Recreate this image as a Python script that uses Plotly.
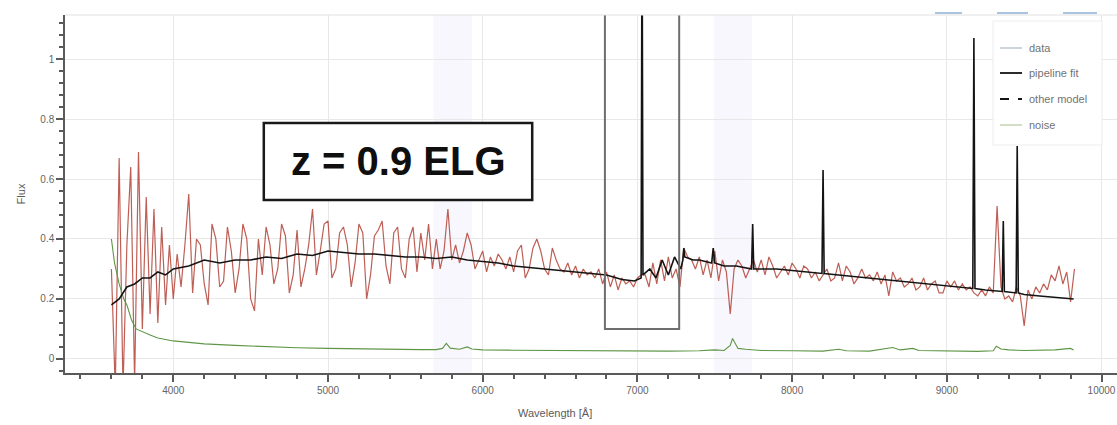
import plotly.graph_objects as go

# ---------------- data ----------------
wave_start = 3600
wave_step = 25
data_flux = [
    0.30, -0.10, 0.67, -0.10, 0.38, 0.64, -0.08, 0.69, 0.10, 0.54,
    0.15, 0.50, 0.12, 0.44, 0.18, 0.38, 0.20, 0.35, 0.24, 0.38,
    0.55, 0.22, 0.40, 0.38, 0.25, 0.18, 0.45, 0.40, 0.24, 0.26,
    0.44, 0.36, 0.22, 0.30, 0.45, 0.40, 0.20, 0.16, 0.40, 0.28,
    0.44, 0.38, 0.25, 0.30, 0.45, 0.41, 0.22, 0.28, 0.43, 0.24,
    0.30, 0.38, 0.50, 0.28, 0.36, 0.45, 0.46, 0.27, 0.30, 0.42,
    0.44, 0.38, 0.24, 0.32, 0.45, 0.42, 0.20, 0.28, 0.41, 0.43,
    0.46, 0.31, 0.25, 0.42, 0.44, 0.30, 0.27, 0.40, 0.44, 0.29,
    0.42, 0.33, 0.45, 0.30, 0.40, 0.30, 0.36, 0.50, 0.33, 0.38,
    0.32, 0.36, 0.42, 0.38, 0.30, 0.33, 0.36, 0.29, 0.34, 0.31,
    0.35, 0.33, 0.30, 0.34, 0.29, 0.36, 0.38, 0.27, 0.30, 0.37,
    0.40, 0.36, 0.30, 0.28, 0.37, 0.33, 0.30, 0.29, 0.32, 0.28,
    0.31, 0.27, 0.30, 0.28, 0.29, 0.27, 0.30, 0.25, 0.29, 0.24,
    0.28, 0.23, 0.27, 0.25, 0.26, 0.24, 0.27, 0.28, 0.28, 0.24,
    0.32, 0.25, 0.33, 0.26, 0.34, 0.27, 0.30, 0.24, 0.37, 0.34,
    0.33, 0.30, 0.34, 0.28, 0.33, 0.27, 0.36, 0.26, 0.33, 0.29,
    0.15, 0.30, 0.33, 0.31, 0.27, 0.30, 0.33, 0.29, 0.33, 0.28,
    0.34, 0.31, 0.27, 0.29, 0.31, 0.28, 0.32, 0.30, 0.27, 0.31,
    0.30, 0.27, 0.29, 0.26, 0.28, 0.30, 0.26, 0.27, 0.32, 0.26,
    0.31, 0.29, 0.25, 0.27, 0.30, 0.27, 0.28, 0.26, 0.29, 0.25,
    0.28, 0.21, 0.29, 0.26, 0.27, 0.24, 0.25, 0.27, 0.23, 0.24,
    0.27, 0.23, 0.25, 0.26, 0.22, 0.22, 0.26, 0.24, 0.26, 0.23,
    0.25, 0.23, 0.24, 0.22, 0.21, 0.23, 0.21, 0.24, 0.22, 0.51,
    0.24, 0.20, 0.21, 0.19, 0.24, 0.21, 0.11, 0.23, 0.20, 0.24,
    0.22, 0.25, 0.23, 0.28, 0.26, 0.31, 0.25, 0.29, 0.19, 0.30,
]
data_wave = [wave_start + wave_step * i for i in range(len(data_flux))]

fit_wave = [
    3600, 3650, 3700, 3750, 3800, 3850, 3900, 3950, 4000, 4100,
    4200, 4300, 4400, 4500, 4600, 4700, 4800, 4900, 5000, 5100,
    5200, 5300, 5400, 5500, 5600, 5700, 5800, 5900, 6000, 6100,
    6200, 6300, 6400, 6500, 6600, 6700, 6800, 6900, 6980, 7024,
    7030, 7036, 7080, 7120, 7160, 7200, 7240, 7280, 7294, 7300,
    7306, 7360, 7400, 7480, 7490, 7500, 7560, 7640, 7738, 7745,
    7752, 7800, 7900, 8000, 8100, 8193, 8200, 8207, 8300, 8400,
    8500, 8600, 8700, 8800, 8900, 9000, 9100, 9168, 9175, 9182,
    9250, 9358, 9365, 9372, 9448, 9455, 9462, 9500, 9600, 9700,
    9820,
]
fit_flux = [
    0.18, 0.20, 0.24, 0.25, 0.27, 0.27, 0.29, 0.28, 0.30, 0.31,
    0.33, 0.32, 0.33, 0.33, 0.34, 0.335, 0.35, 0.345, 0.36, 0.355,
    0.35, 0.35, 0.345, 0.34, 0.34, 0.335, 0.34, 0.33, 0.325, 0.32,
    0.31, 0.305, 0.30, 0.295, 0.29, 0.285, 0.28, 0.265, 0.26, 0.27,
    1.50, 0.28, 0.30, 0.27, 0.33, 0.28, 0.34, 0.30, 0.33, 0.37,
    0.34, 0.33, 0.33, 0.32, 0.37, 0.32, 0.31, 0.31, 0.30, 0.45,
    0.30, 0.30, 0.30, 0.295, 0.29, 0.285, 0.63, 0.285, 0.28, 0.275,
    0.27, 0.265, 0.26, 0.255, 0.25, 0.245, 0.24, 0.235, 1.07, 0.235,
    0.23, 0.225, 0.46, 0.225, 0.22, 0.71, 0.22, 0.215, 0.21, 0.205,
    0.20,
]

noise_wave = [
    3600, 3620, 3650, 3680, 3700, 3730, 3760, 3800, 3850, 3900,
    4000, 4100, 4200, 4400, 4600, 4800, 5000, 5200, 5400, 5600,
    5700, 5740, 5765, 5790, 5850, 5900, 5930, 6000, 6200, 6400,
    6600, 6800, 7000, 7200, 7400, 7500, 7560, 7600, 7615, 7650,
    7700, 7800, 8000, 8200, 8300, 8350, 8500, 8650, 8700, 8780,
    8820, 9000, 9200, 9300, 9320, 9350, 9400, 9500, 9600, 9700,
    9800, 9820,
]
noise_flux = [
    0.40, 0.32, 0.25, 0.20, 0.18, 0.13, 0.10, 0.09, 0.08, 0.07,
    0.06, 0.055, 0.05, 0.045, 0.04, 0.037, 0.035, 0.033, 0.032, 0.031,
    0.031, 0.035, 0.052, 0.036, 0.032, 0.04, 0.033, 0.03, 0.029, 0.028,
    0.027, 0.027, 0.026, 0.026, 0.027, 0.03, 0.028, 0.045, 0.068, 0.035,
    0.032, 0.028, 0.027, 0.026, 0.032, 0.027, 0.026, 0.038, 0.03, 0.035,
    0.028, 0.026, 0.025, 0.027, 0.042, 0.033, 0.03, 0.028, 0.03, 0.03,
    0.035, 0.03,
]

mask_bands = [(5680, 5930), (7495, 7740)]
zoom_box = (6790, 7270, 0.10, 1.155)
label_box = (4585, 6320, 0.53, 0.787)
label_text = "z = 0.9 ELG"
legend_names = ["data", "pipeline fit", "other model", "noise"]
x_range = [3300, 10100]
y_range = [-0.047, 1.147]

# ---------------- figure ----------------
data_color = "rgb(184,78,68)"
fig = go.Figure()
fig.add_trace(go.Scatter(x=data_wave, y=data_flux, mode="lines",
                         line=dict(color=data_color, width=1.2),
                         opacity=0.9, name="data", showlegend=False))
fig.add_trace(go.Scatter(x=noise_wave, y=noise_flux, mode="lines",
                         line=dict(color="rgb(95,150,70)", width=1.1),
                         name="noise", showlegend=False))
fig.add_trace(go.Scatter(x=fit_wave, y=fit_flux, mode="lines",
                         line=dict(color="rgb(20,20,20)", width=1.6),
                         name="pipeline fit", showlegend=False))

shapes = []
for x0, x1 in mask_bands:
    shapes.append(dict(type="rect", xref="x", yref="paper", x0=x0, x1=x1,
                       y0=0, y1=1, fillcolor="rgba(210,210,245,0.18)",
                       line=dict(width=0), layer="below"))
shapes.append(dict(type="rect", xref="x", yref="y", x0=zoom_box[0],
                   x1=zoom_box[1], y0=zoom_box[2], y1=zoom_box[3],
                   line=dict(color="rgb(110,110,110)", width=2)))
shapes.append(dict(type="rect", xref="x", yref="y", x0=label_box[0],
                   x1=label_box[1], y0=label_box[2], y1=label_box[3],
                   fillcolor="white",
                   line=dict(color="rgb(25,25,25)", width=2.5)))
# top frame
shapes.append(dict(type="line", xref="paper", yref="paper", x0=0, x1=1,
                   y0=1, y1=1, line=dict(color="rgb(225,225,225)", width=1)))

# manual legend (pixel positions converted to paper coords)
L, R, T, B = 65, 1117, 15, 373
def px(x):
    return (x - L) / (R - L)
def py(y):
    return (B - y) / (B - T)

shapes.append(dict(type="rect", xref="paper", yref="paper",
                   x0=px(993), x1=px(1102), y0=py(145), y1=py(21),
                   fillcolor="rgba(255,255,255,0.92)",
                   line=dict(color="rgb(236,236,236)", width=1)))
leg_y = [48, 73, 99, 125]
leg_col = ["rgb(170,185,200)", "rgb(20,20,20)", "rgb(20,20,20)",
           "rgb(180,200,160)"]
leg_dash = ["solid", "solid", "dash", "solid"]
leg_w = [1.2, 1.8, 1.8, 1.2]
annotations = []
for name, yy, c, d, w in zip(legend_names, leg_y, leg_col, leg_dash, leg_w):
    shapes.append(dict(type="line", xref="paper", yref="paper",
                       x0=px(1000), x1=px(1022), y0=py(yy), y1=py(yy),
                       line=dict(color=c, width=w, dash=d)))
    annotations.append(dict(xref="paper", yref="paper", x=px(1027),
                            y=py(yy), text=name, showarrow=False,
                            xanchor="left", yanchor="middle",
                            font=dict(size=11, color="rgb(115,115,115)",
                                      family="Liberation Sans, Arial")))

# toolbar dashes at top right
for a, b in [(935, 962), (997, 1028), (1063, 1097)]:
    shapes.append(dict(type="line", xref="paper", yref="paper",
                       x0=px(a), x1=px(b), y0=py(13), y1=py(13),
                       line=dict(color="rgb(170,195,225)", width=2)))

annotations.append(dict(xref="x", yref="y",
                        x=(label_box[0] + label_box[1]) / 2,
                        y=(label_box[2] + label_box[3]) / 2,
                        text="<b>" + label_text + "</b>", showarrow=False,
                        xanchor="center", yanchor="middle",
                        font=dict(size=40, color="rgb(15,15,15)",
                                  family="Liberation Sans, Arial")))
annotations.append(dict(xref="paper", yref="paper", x=px(555), y=py(413),
                        text="Wavelength [Å]", showarrow=False,
                        xanchor="center", yanchor="middle",
                        font=dict(size=11, color="rgb(90,90,90)",
                                  family="Liberation Sans, Arial")))

axis_font = dict(size=10, color="rgb(100,100,100)",
                 family="Liberation Sans, Arial")
fig.update_layout(
    width=1117, height=425,
    margin=dict(l=65, r=0, t=15, b=52),
    paper_bgcolor="white", plot_bgcolor="white",
    shapes=shapes, annotations=annotations,
    showlegend=False,
    xaxis=dict(range=x_range, dtick=1000, tick0=0, tickformat="d",
               showgrid=True, gridcolor="rgb(232,232,232)", gridwidth=1,
               zeroline=False, showline=True, linecolor="rgb(90,90,90)",
               linewidth=1.5, ticks="outside", ticklen=7, tickwidth=1.5,
               tickcolor="rgb(90,90,90)", tickfont=axis_font,
               minor=dict(dtick=200, ticks="outside", ticklen=4,
                          tickcolor="rgb(90,90,90)", showgrid=False)),
    yaxis=dict(range=y_range, dtick=0.2, tick0=0,
               showgrid=True, gridcolor="rgb(232,232,232)", gridwidth=1,
               zeroline=False, showline=True, linecolor="rgb(90,90,90)",
               linewidth=1.5, ticks="outside", ticklen=7, tickwidth=1.5,
               tickcolor="rgb(90,90,90)", tickfont=axis_font,
               title=dict(text="Flux", font=dict(size=11,
                          color="rgb(90,90,90)",
                          family="Liberation Sans, Arial"), standoff=12),
               minor=dict(dtick=0.04, ticks="outside", ticklen=4,
                          tickcolor="rgb(90,90,90)", showgrid=False)),
)

fig.write_html("out.html")
